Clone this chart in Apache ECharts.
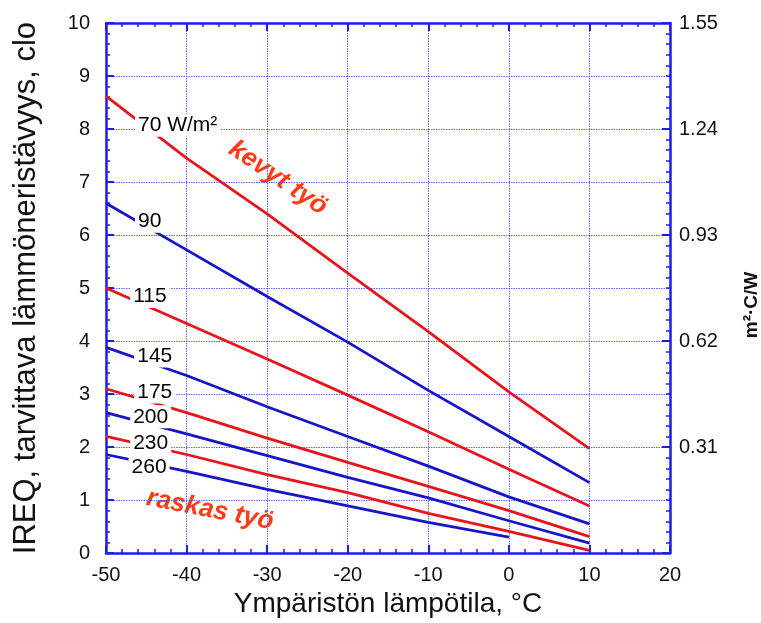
<!DOCTYPE html>
<html>
<head>
<meta charset="utf-8">
<script src="https://cdn.jsdelivr.net/npm/echarts@6.0.0/dist/echarts.min.js"></script>
<style>
  html, body { margin: 0; padding: 0; background: #fff; }
  #chart { width: 761px; height: 623px; }
</style>
</head>
<body>
<div id="chart"></div>
<script>
    // ambient temperature, °C
    var temps = [-50, -40, -30, -20, -10, 0, 10];
    // IREQ (clo) per metabolic rate
    var ireq70 = [8.62, 7.45, 6.40, 5.28, 4.18, 3.04, 1.97];
    var ireq90 = [6.60, 5.72, 4.84, 3.98, 3.07, 2.20, 1.33];
    var ireq115 = [5.00, 4.33, 3.66, 2.98, 2.29, 1.58, 0.89];
    var ireq145 = [3.88, 3.35, 2.76, 2.20, 1.64, 1.06, 0.55];
    var ireq175 = [3.10, 2.65, 2.17, 1.71, 1.26, 0.80, 0.31];
    var ireq200 = [2.65, 2.25, 1.84, 1.43, 1.04, 0.61, 0.19];
    var ireq230 = [2.20, 1.86, 1.48, 1.14, 0.75, 0.41, 0.05];
    var ireq260 = [1.86, 1.54, 1.20, 0.89, 0.58, 0.30];

    // curve labels
    var labelText = ['70 W/m²', '90', '115', '145', '175', '200', '230', '260'];
    var labelX = [-46.4, -46.4, -47.0, -46.5, -46.5, -47.0, -47.0, -47.2];
    var labelY = [8.07, 6.26, 4.84, 3.72, 3.04, 2.57, 2.07, 1.62];

    var RED = '#e8141c';
    var BLUE = '#1616c8';
    var AXIS = '#1c1cec';
    var GRIDC = '#4a4aff';
    var FONT = '"Liberation Sans", Arial, sans-serif';

    var curves = [
        {vals: ireq70, color: RED},
        {vals: ireq90, color: BLUE},
        {vals: ireq115, color: RED},
        {vals: ireq145, color: BLUE},
        {vals: ireq175, color: RED},
        {vals: ireq200, color: BLUE},
        {vals: ireq230, color: RED},
        {vals: ireq260, color: BLUE}
    ];

    function pairs(xs, ys) {
        var out = [];
        for (var i = 0; i < ys.length; i++) {
            out.push([xs[i], ys[i]]);
        }
        return out;
    }

    var series = curves.map(function (c, i) {
        return {
            name: labelText[i],
            type: 'line',
            data: pairs(temps, c.vals),
            symbol: 'none',
            z: 3,
            lineStyle: {color: c.color, width: 2.8},
            animation: false
        };
    });

    var labelData = [];
    for (var i = 0; i < labelText.length; i++) {
        labelData.push([labelX[i], labelY[i], labelText[i]]);
    }
    series.push({
        type: 'scatter',
        data: labelData,
        symbolSize: 0,
        z: 10,
        silent: true,
        animation: false,
        itemStyle: {opacity: 1},
        label: {
            show: true,
            position: 'right',
            distance: 0,
            formatter: function (p) { return p.data[2]; },
            color: '#000',
            fontSize: 21,
            fontFamily: FONT,
            backgroundColor: '#fff',
            padding: [1, 3]
        }
    });

    var tickLine = {color: AXIS, width: 2};
    var minorLine = {color: AXIS, width: 1.5};

    var chart = echarts.init(document.getElementById('chart'), null, {renderer: 'canvas'});
    var option = {
        backgroundColor: '#fff',
        animation: false,
        grid: {left: 106, right: 91, top: 23, bottom: 64},
        xAxis: [
            {
                type: 'value', min: -50, max: 20, interval: 10,
                name: 'Ympäristön lämpötila, °C',
                nameLocation: 'middle', nameGap: 33,
                nameTextStyle: {fontSize: 28, color: '#111', fontFamily: FONT},
                axisLine: {show: true, onZero: false, lineStyle: {color: AXIS, width: 2.5}},
                axisTick: {inside: true, length: 8, lineStyle: tickLine},
                minorTick: {show: true, splitNumber: 5, length: 4, lineStyle: minorLine},
                splitLine: {show: true, lineStyle: {color: GRIDC, type: [1.5, 1], width: 1, opacity: 0.85}},
                axisLabel: {fontSize: 20, color: '#111', margin: 12, fontFamily: FONT}
            },
            {
                type: 'value', position: 'top', min: -50, max: 20, interval: 10,
                axisLine: {show: true, onZero: false, lineStyle: {color: AXIS, width: 2.5}},
                axisTick: {inside: true, length: 8, lineStyle: tickLine},
                minorTick: {show: true, splitNumber: 5, length: 4, lineStyle: minorLine},
                splitLine: {show: false},
                axisLabel: {show: false}
            }
        ],
        yAxis: [
            {
                type: 'value', min: 0, max: 10, interval: 1,
                name: 'IREQ, tarvittava lämmöneristävyys, clo',
                nameLocation: 'middle', nameRotate: 90, nameGap: 64,
                nameTextStyle: {fontSize: 31, color: '#111', fontFamily: FONT},
                axisLine: {show: true, onZero: false, lineStyle: {color: AXIS, width: 2.5}},
                axisTick: {inside: true, length: 8, lineStyle: tickLine},
                minorTick: {show: true, splitNumber: 5, length: 4, lineStyle: minorLine},
                splitLine: {show: true, lineStyle: {color: GRIDC, type: [1.5, 1], width: 1, opacity: 0.85}},
                axisLabel: {fontSize: 20, color: '#111', margin: 16, fontFamily: FONT}
            },
            {
                type: 'value', position: 'right', min: 0, max: 1.55, interval: 0.31,
                axisLine: {show: true, onZero: false, lineStyle: {color: AXIS, width: 2.5}},
                axisTick: {inside: true, length: 8, lineStyle: tickLine},
                minorTick: {show: true, splitNumber: 10, length: 4, lineStyle: minorLine},
                splitLine: {show: false},
                axisLabel: {
                    fontSize: 20, color: '#111', margin: 9, fontFamily: FONT,
                    formatter: function (v) { return v === 0 ? '' : v.toFixed(2); }
                }
            }
        ],
        graphic: [
            {
                type: 'text', x: 752, y: 305, rotation: Math.PI / 2,
                style: {
                    text: 'm²·C/W', fill: '#111', fontSize: 19, fontWeight: 'bold',
                    fontFamily: FONT, textAlign: 'center', textVerticalAlign: 'middle'
                }
            },
            {
                type: 'text', x: 278, y: 178, rotation: -34 * Math.PI / 180,
                style: {
                    text: 'kevyt työ', fill: '#ff3a14', fontSize: 26, fontWeight: 'bold',
                    fontStyle: 'italic', fontFamily: FONT, textAlign: 'center', textVerticalAlign: 'middle'
                }
            },
            {
                type: 'text', x: 210, y: 510, rotation: -11 * Math.PI / 180,
                style: {
                    text: 'raskas työ', fill: '#ff3a14', fontSize: 26, fontWeight: 'bold',
                    fontStyle: 'italic', fontFamily: FONT, textAlign: 'center', textVerticalAlign: 'middle'
                }
            }
        ],
        series: series
    };
    chart.setOption(option);
</script>
</body>
</html>
